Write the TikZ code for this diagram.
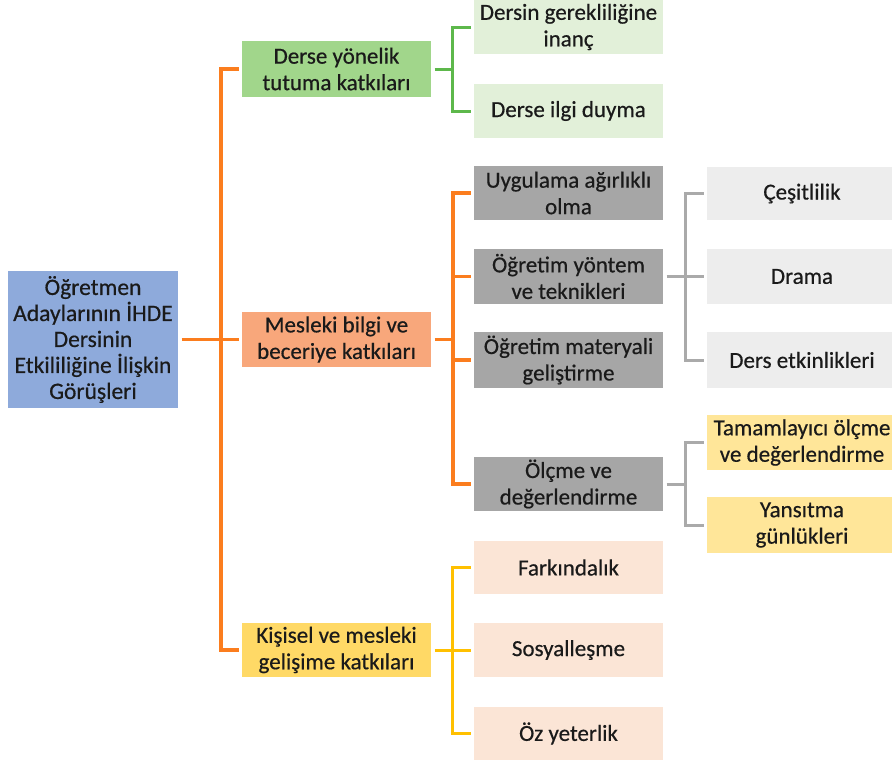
\documentclass[tikz,border=0pt]{standalone}
\usepackage{fontspec}
\setmainfont{Carlito}[FakeBold=0.5]
\definecolor{rootc}{HTML}{8EAADB}
\definecolor{grn}{HTML}{A1D68B}
\definecolor{sal}{HTML}{F8A77B}
\definecolor{yel}{HTML}{FFD966}
\definecolor{lgrn}{HTML}{E2F0D9}
\definecolor{dgray}{HTML}{A6A6A6}
\definecolor{lgray}{HTML}{EDEDED}
\definecolor{lyel}{HTML}{FFE699}
\definecolor{peach}{HTML}{FBE5D6}
\definecolor{lorange}{HTML}{FB7D1E}
\definecolor{lgreen}{HTML}{5DB84B}
\definecolor{lgrayl}{HTML}{AAAAAA}
\definecolor{lyell}{HTML}{FFC000}
\definecolor{txt}{HTML}{1A1A1A}
\tikzset{
  box/.style={draw=none, inner sep=0pt, outer sep=3.5pt, align=center, text=txt,
    font=\fontsize{23}{26.5}\selectfont, minimum height=55pt},
  rootbox/.style={box, fill=rootc, minimum width=170pt, minimum height=137pt, font=\fontsize{23.5}{26}\selectfont},
  lone/.style={box, minimum width=189pt},
  ltwo/.style={box, minimum width=189pt},
  lthree/.style={box, minimum width=190pt},
  oline/.style={draw=lorange, line width=3.5pt},
  gline/.style={draw=lgreen, line width=3pt},
  grline/.style={draw=lgrayl, line width=3pt},
  yline/.style={draw=lyell, line width=3pt},
}
\begin{document}
\begin{tikzpicture}[x=1pt,y=-1pt]
\useasboundingbox (0,0) rectangle (892,763);
% root
\node[rootbox] (root) at (93,339.5) {Öğretmen\\Adaylarının İHDE\\Dersinin\\Etkililiğine İlişkin\\Görüşleri};
% level 1
\node[lone, fill=grn, minimum height=56pt] (g1) at (336.5,69) {Derse yönelik\\tutuma katkıları};
\node[lone, fill=sal] (m1) at (336.5,339.5) {Mesleki bilgi ve\\beceriye katkıları};
\node[lone, fill=yel, minimum height=54pt] (k1) at (336.5,650) {Kişisel ve mesleki\\gelişime katkıları};
% level 2
\node[ltwo, fill=lgrn, minimum height=54pt] (ga) at (568.5,27) {Dersin gerekliliğine\\inanç};
\node[ltwo, fill=lgrn, minimum height=54pt] (gb) at (568.5,111) {Derse ilgi duyma};
\node[ltwo, fill=dgray, minimum height=54pt] (ma) at (568.5,193) {Uygulama ağırlıklı\\olma};
\node[ltwo, fill=dgray] (mb) at (568.5,276.5) {Öğretim yöntem\\ve teknikleri};
\node[ltwo, fill=dgray, minimum height=56pt] (mc) at (568.5,360) {Öğretim materyali\\geliştirme};
\node[ltwo, fill=dgray, minimum height=54pt] (md) at (568.5,484) {Ölçme ve\\değerlendirme};
\node[ltwo, fill=peach, minimum height=53pt] (ka) at (568.5,567.5) {Farkındalık};
\node[ltwo, fill=peach, minimum height=54pt] (kb) at (568.5,650) {Sosyalleşme};
\node[ltwo, fill=peach, minimum height=53pt] (kc) at (568.5,733.5) {Öz yeterlik};
% level 3
\node[lthree, fill=lgray, minimum height=53pt] (c1) at (802,193.5) {Çeşitlilik};
\node[lthree, fill=lgray] (c2) at (802,276.5) {Drama};
\node[lthree, fill=lgray, minimum height=56pt] (c3) at (802,360) {Ders etkinlikleri};
\node[lthree, fill=lyel] (y1) at (802,442.5) {Tamamlayıcı ölçme\\ve değerlendirme};
\node[lthree, fill=lyel, minimum height=56pt] (y2) at (802,525) {Yansıtma\\günlükleri};
% bus coordinates
\coordinate (ob) at (221,0);
\coordinate (ib) at (453,0);
\coordinate (gbx) at (452,0);
\coordinate (grb) at (685,0);
% root connectors
\draw[oline] (root.east) -- (m1.west);
\draw[oline] (g1.west) -- (g1.west -| ob) -- (k1.west -| ob) -- (k1.west);
% green
\draw[gline] (g1.east) -- (g1.east -| gbx);
\draw[gline] (ga.west) -- (ga.west -| gbx) -- (gb.west -| gbx) -- (gb.west);
% orange inner
\draw[oline] (m1.east) -- (m1.east -| ib);
\draw[oline] (ma.west) -- (ma.west -| ib) -- (md.west -| ib) -- (md.west);
\draw[oline] (mb.west) -- (mb.west -| ib);
\draw[oline] (mc.west) -- (mc.west -| ib);
% gray
\draw[grline] (mb.east) -- (c2.west);
\draw[grline] (c1.west) -- (c1.west -| grb) -- (c3.west -| grb) -- (c3.west);
\draw[grline] (md.east) -- (md.east -| grb);
\draw[grline] (y1.west) -- (y1.west -| grb) -- (y2.west -| grb) -- (y2.west);
% yellow
\draw[yline] (k1.east) -- (kb.west);
\draw[yline] (ka.west) -- (ka.west -| gbx) -- (kc.west -| gbx) -- (kc.west);
\end{tikzpicture}
\end{document}
